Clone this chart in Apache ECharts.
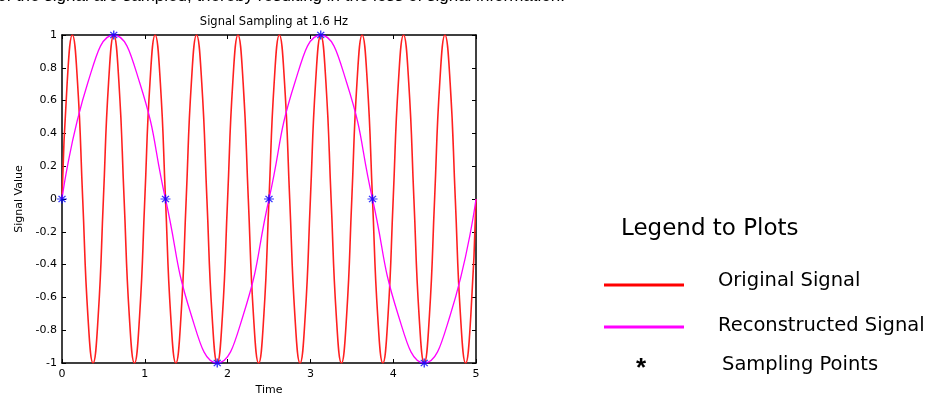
<!DOCTYPE html>
<html>
<head>
<meta charset="utf-8">
<script src="https://cdn.jsdelivr.net/npm/echarts@6/dist/echarts.min.js"></script>
<style>
html,body{margin:0;padding:0;background:#fff;}
#chart{width:934px;height:398px;}
</style>
</head>
<body>
<div id="chart"></div>
<script>
// ---- data ----
var origTime = [0,0.0625,0.125,0.1875,0.25,0.3125,0.375,0.4375,0.5,0.5625,0.625,0.6875,0.75,0.8125,0.875,0.9375,1,
  1.0625,1.125,1.1875,1.25,1.3125,1.375,1.4375,1.5,1.5625,1.625,1.6875,1.75,1.8125,1.875,1.9375,2,
  2.0625,2.125,2.1875,2.25,2.3125,2.375,2.4375,2.5,2.5625,2.625,2.6875,2.75,2.8125,2.875,2.9375,3,
  3.0625,3.125,3.1875,3.25,3.3125,3.375,3.4375,3.5,3.5625,3.625,3.6875,3.75,3.8125,3.875,3.9375,4,
  4.0625,4.125,4.1875,4.25,4.3125,4.375,4.4375,4.5,4.5625,4.625,4.6875,4.75,4.8125,4.875,4.9375,5];
var origValue = [0,0.71,1,0.71,0,-0.71,-1,-0.71,0,0.71,1,0.71,0,-0.71,-1,-0.71,0,
  0.71,1,0.71,0,-0.71,-1,-0.71,0,0.71,1,0.71,0,-0.71,-1,-0.71,0,
  0.71,1,0.71,0,-0.71,-1,-0.71,0,0.71,1,0.71,0,-0.71,-1,-0.71,0,
  0.71,1,0.71,0,-0.71,-1,-0.71,0,0.71,1,0.71,0,-0.71,-1,-0.71,0,
  0.71,1,0.71,0,-0.71,-1,-0.71,0,0.71,1,0.71,0,-0.71,-1,-0.71,0];
var reconTime = [0,0.3125,0.625,0.9375,1.25,1.5625,1.875,2.1875,2.5,2.8125,3.125,3.4375,3.75,4.0625,4.375,4.6875,5];
var reconValue = [0,0.71,1,0.71,0,-0.71,-1,-0.71,0,0.71,1,0.71,0,-0.71,-1,-0.71,0];
var sampleTime = [0,0.625,1.25,1.875,2.5,3.125,3.75,4.375];
var sampleValue = [0,1,0,-1,0,1,0,-1];
var xTicks = [0,1,2,3,4,5];
var yTicks = [-1,-0.8,-0.6,-0.4,-0.2,0,0.2,0.4,0.6,0.8,1];

function pairs(t, v){ var out=[]; for(var i=0;i<t.length;i++){ out.push([t[i], v[i]]); } return out; }

var FONT = 'Liberation Sans, Arial, sans-serif';
var DJ = '"DejaVu Sans", sans-serif';
var chart = echarts.init(document.getElementById('chart'), null, {renderer:'canvas'});
var asterisk = 'path://M0,-5L0,5M-5,0L5,0M-3.5,-3.5L3.5,3.5M-3.5,3.5L3.5,-3.5';

var axisBase = {
  type:'value', min:0, max:5, interval:1,
  axisLine:{show:true, onZero:false, lineStyle:{color:'#000', width:1.5}},
  axisTick:{show:true, inside:true, length:4, lineStyle:{color:'#000'}},
  splitLine:{show:false}
};

chart.setOption({
  animation:false,
  backgroundColor:'#fff',
  title:{
    text:'Signal Sampling at 1.6 Hz', left:269, top:11, textAlign:'center',
    textStyle:{fontFamily:DJ, fontSize:11.5, fontWeight:'normal', color:'#000'}
  },
  grid:{left:62, right:458, top:35, bottom:35, containLabel:false, outerBoundsMode:'none'},
  xAxis:[
    Object.assign({}, axisBase, {position:'bottom', name:'Time', nameLocation:'middle',
      nameGap:22, nameTextStyle:{fontFamily:DJ, fontSize:11, color:'#000'},
      axisLabel:{show:true, color:'#000', fontFamily:DJ, fontSize:11, margin:6,
        formatter:function(v){ return xTicks.indexOf(v)>=0 ? String(v) : ''; }}}),
    Object.assign({}, axisBase, {position:'top', axisLabel:{show:false}})
  ],
  yAxis:[
    Object.assign({}, axisBase, {min:-1, max:1, interval:0.2, position:'left',
      name:'Signal Value', nameLocation:'middle', nameGap:37, nameRotate:90,
      nameTextStyle:{fontFamily:DJ, fontSize:11, color:'#000'},
      axisLabel:{show:true, color:'#000', fontFamily:DJ, fontSize:11, margin:5,
        formatter:function(v){ var r=Math.round(v*10)/10; return r===0?'0':String(r); }}}),
    Object.assign({}, axisBase, {min:-1, max:1, interval:0.2, position:'right', axisLabel:{show:false}})
  ],
  series:[
    {type:'line', data:pairs(origTime, origValue), smooth:0.5, showSymbol:false,
      lineStyle:{color:'#ff2020', width:1.6}, z:2},
    {type:'line', data:pairs(reconTime, reconValue), smooth:0.5, showSymbol:false,
      lineStyle:{color:'#ff00ff', width:1.3}, z:3},
    {type:'scatter', data:pairs(sampleTime, sampleValue), symbol:asterisk, symbolSize:[10,9],
      itemStyle:{color:'rgba(0,0,0,0)', borderColor:'#0000ff', borderWidth:1.3}, z:4}
  ],
  graphic:[
    {type:'text', left:-3, top:-12, style:{text:'of the signal are sampled, thereby resulting in the loss of signal information.',
      font:'17px ' + FONT, fill:'#000'}},
    {type:'text', left:621, top:218, style:{text:'Legend to Plots', font:'23px ' + DJ, fill:'#000'}},
    {type:'line', shape:{x1:604, y1:285, x2:684, y2:285}, style:{stroke:'#ff0000', lineWidth:3}},
    {type:'line', shape:{x1:604, y1:327, x2:684, y2:327}, style:{stroke:'#ff00ff', lineWidth:3}},
    {type:'text', left:636, top:356, style:{text:'*', font:'bold 26px ' + FONT, fill:'#000'}},
    {type:'text', left:718, top:271, style:{text:'Original Signal', font:'19.5px ' + DJ, fill:'#000'}},
    {type:'text', left:718, top:316, style:{text:'Reconstructed Signal', font:'19.5px ' + DJ, fill:'#000'}},
    {type:'text', left:722, top:355, style:{text:'Sampling Points', font:'19.5px ' + DJ, fill:'#000'}}
  ]
});
</script>
</body>
</html>
